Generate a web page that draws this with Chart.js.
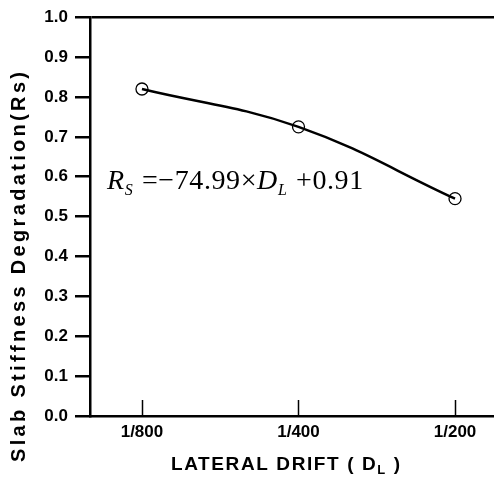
<!DOCTYPE html>
<html>
<head>
<meta charset="utf-8">
<script src="https://cdn.jsdelivr.net/npm/chart.js@4"></script>
<style>
  html, body { margin: 0; padding: 0; background: #fff; }
</style>
</head>
<body>
<canvas id="drift-chart" width="494" height="477"></canvas>
<script>
// data
const driftLabels = ['1/800', '1/400', '1/200'];
const driftPositions = [0, 1, 2];
const stiffness = [0.82, 0.725, 0.545];
const yTickValues = [0.0, 0.1, 0.2, 0.3, 0.4, 0.5, 0.6, 0.7, 0.8, 0.9, 1.0];

const yTitle = 'Slab Stiffness Degradation(Rs)';
const xTitle = 'LATERAL DRIFT ( D';
const xTitleSub = 'L';

// equation pieces: text, italic?, subscript?
const equation = [
    ['R', true, false],
    ['S', true, true],
    [' =\u2212', false, false],
    ['74.99\u00d7', false, false],
    ['D', true, false],
    ['L', true, true],
    [' +0.91', false, false]
];

const sans = '"Liberation Sans", Arial, sans-serif';
const serif = '"Liberation Serif", "Times New Roman", serif';

// x-axis ticks point up into the plot
const inwardTicks = {
    id: 'inwardTicks',
    afterDraw(chart) {
        const ctx = chart.ctx;
        const x = chart.scales.x;
        const bottom = chart.chartArea.bottom;
        ctx.save();
        ctx.strokeStyle = '#000';
        ctx.lineWidth = 1.5;
        driftPositions.forEach(v => {
            const px = Math.round(x.getPixelForValue(v)) + 0.5;
            ctx.beginPath();
            ctx.moveTo(px, bottom);
            ctx.lineTo(px, bottom - 16);
            ctx.stroke();
        });
        ctx.restore();
    }
};

const axisTitles = {
    id: 'axisTitles',
    afterDraw(chart) {
        const ctx = chart.ctx;
        const area = chart.chartArea;
        ctx.save();
        ctx.fillStyle = '#000';

        // y title, spread to the length it has in the figure
        ctx.translate(area.left - 71, area.bottom - 149);
        ctx.rotate(-Math.PI / 2);
        ctx.font = 'bold 20px ' + sans;
        const w = ctx.measureText(yTitle).width;
        const spacing = (390 - w) / (yTitle.length - 1);
        ctx.letterSpacing = spacing + 'px';
        ctx.textAlign = 'left';
        ctx.textBaseline = 'middle';
        ctx.fillText(yTitle, -195, 0);
        ctx.setTransform(1, 0, 0, 1, 0, 0);

        // x title with subscript
        ctx.textAlign = 'left';
        ctx.textBaseline = 'alphabetic';
        ctx.font = 'bold 19px ' + sans;
        ctx.letterSpacing = '1.6px';
        let tx = 171;
        const ty = area.bottom + 54;
        ctx.fillText(xTitle, tx, ty);
        tx += ctx.measureText(xTitle).width;
        ctx.font = 'bold 13px ' + sans;
        ctx.fillText(xTitleSub, tx, ty + 4);
        tx += ctx.measureText(xTitleSub).width;
        ctx.font = 'bold 19px ' + sans;
        ctx.fillText(' )', tx, ty);
        ctx.restore();
    }
};

const equationLabel = {
    id: 'equationLabel',
    afterDraw(chart) {
        const ctx = chart.ctx;
        ctx.save();
        ctx.fillStyle = '#000';
        ctx.textAlign = 'left';
        ctx.textBaseline = 'alphabetic';
        ctx.letterSpacing = '0.6px';
        let tx = 107;
        const ty = 189;
        equation.forEach(([txt, italic, sub]) => {
            const size = sub ? 16 : 28;
            ctx.font = (italic ? 'italic ' : '') + size + 'px ' + serif;
            ctx.fillText(txt, tx, sub ? ty + 6 : ty);
            tx += ctx.measureText(txt).width + (sub ? 1 : 0);
        });
        ctx.restore();
    }
};

new Chart(document.querySelector('#drift-chart').getContext('2d'), {
    type: 'line',
    data: {
        datasets: [{
            data: driftPositions.map((x, i) => ({ x: x, y: stiffness[i] })),
            borderColor: '#000',
            borderWidth: 2.5,
            tension: 0.4,
            pointRadius: 6,
            pointHoverRadius: 6,
            pointBorderWidth: 1.3,
            pointBorderColor: '#000',
            pointBackgroundColor: 'rgba(0,0,0,0)',
            fill: false
        }]
    },
    options: {
        responsive: false,
        animation: false,
        layout: { autoPadding: false, padding: { top: 14, right: 0, left: 0, bottom: 0 } },
        plugins: {
            legend: { display: false },
            tooltip: { enabled: false }
        },
        scales: {
            x: {
                type: 'linear',
                min: -0.332,
                max: 2.249,
                afterBuildTicks: scale => {
                    scale.ticks = driftPositions.map(v => ({ value: v }));
                },
                afterFit: scale => {
                    scale.height = 61;
                    scale.paddingLeft = 0;
                    scale.paddingRight = 0;
                },
                grid: { display: false, drawTicks: false },
                border: { display: true, color: '#000', width: 2.5 },
                ticks: {
                    padding: 6,
                    color: '#000',
                    font: { family: sans, size: 17, weight: 'bold' },
                    callback: v => driftLabels[driftPositions.indexOf(v)]
                }
            },
            y: {
                min: 0,
                max: 1,
                afterBuildTicks: scale => {
                    scale.ticks = yTickValues.map(v => ({ value: v }));
                },
                afterFit: scale => { scale.width = 90; },
                grid: {
                    drawOnChartArea: true,
                    color: c => (c.tick && c.tick.value === 1) ? '#000' : 'rgba(0,0,0,0)',
                    lineWidth: 2.5,
                    tickLength: 15,
                    tickColor: '#000',
                    tickWidth: 2.5
                },
                border: { display: true, color: '#000', width: 2.5 },
                ticks: {
                    padding: 7,
                    color: '#000',
                    font: { family: sans, size: 17, weight: 'bold' },
                    callback: v => v.toFixed(1)
                }
            }
        }
    },
    plugins: [inwardTicks, axisTitles, equationLabel]
});
</script>
</body>
</html>
